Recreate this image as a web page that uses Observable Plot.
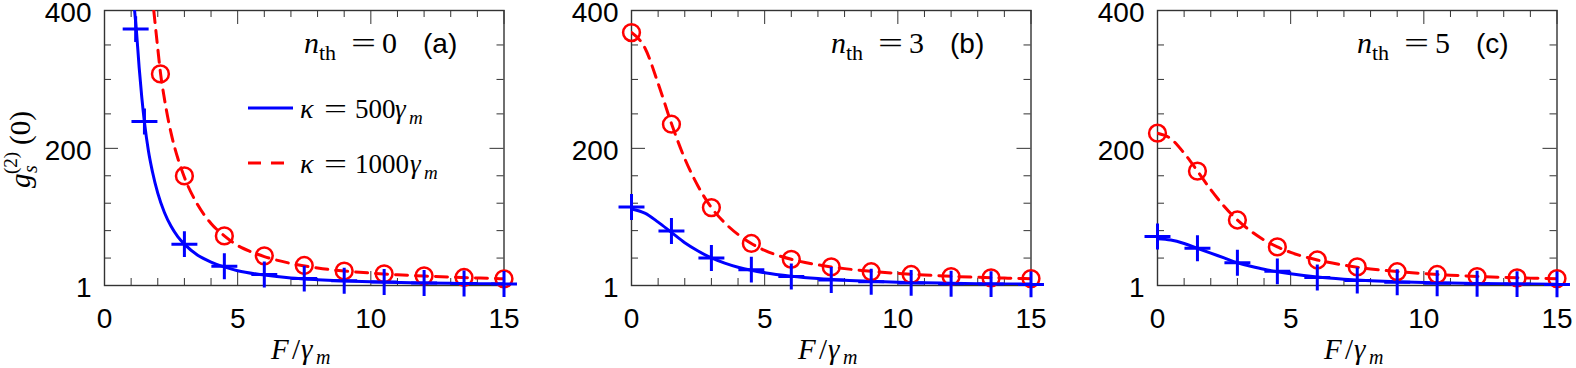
<!DOCTYPE html>
<html>
<head>
<meta charset="utf-8">
<script src="https://cdn.jsdelivr.net/npm/d3@7"></script>
<script src="https://cdn.jsdelivr.net/npm/@observablehq/plot@0.6"></script>
<style>
  body { margin: 0; background: #fff; }
  #fig { position: relative; width: 1576px; height: 368px; overflow: hidden; background: #fff; }
  .panel { position: absolute; top: 0; }
  .panel svg { max-width: none; overflow: visible; display: block; }
</style>
</head>
<body>
<div id="fig"></div>
<script>
// ---- axes -------------------------------------------------------------
const xMajorTicks = [0, 5, 10, 15];
const xMinorTicks = [1, 2, 3, 4, 6, 7, 8, 9, 11, 12, 13, 14];
const yTickValues = [1, 200, 400];
const yTickLabels = ["1", "200", "400"];
const yMinorTicks = [40.8, 80.6, 120.4, 160.2, 250, 300, 350];

// ---- panel annotations ------------------------------------------------
const nThermal = ["0", "3", "5"];
const panelTags = ["(a)", "(b)", "(c)"];
const kappaLabels = ["500", "1000"];

// ---- analytic curves g_s^(2)(0) versus F/γm ---------------------------
// panel (a), n_th = 0 (both curves leave the top of the range at small F)
const curveFa500 = [1.13, 1.2, 1.3, 1.4, 1.5, 1.65, 1.8, 2, 2.25, 2.5, 2.75, 3, 3.5, 4, 4.5, 5, 6, 7, 8, 9, 10, 11, 12, 13, 14, 15];
const curveGa500 = [400, 370, 318, 274, 238, 196, 166, 135, 107, 87, 72, 61, 45, 35, 28, 22.5, 16.2, 12, 9.5, 7.7, 6.4, 5.4, 4.7, 4.2, 3.7, 3.4];
const curveFa1000 = [1.85, 2, 2.1, 2.25, 2.5, 2.75, 3, 3.5, 4, 4.5, 5, 5.5, 6, 7, 8, 9, 10, 11, 12, 13, 14, 15];
const curveGa1000 = [400, 345, 310, 272, 222, 186, 158, 118, 91, 73, 59, 50, 43, 33, 26.5, 22, 19, 16.5, 14.8, 13.2, 11.9, 10.8];
// panels (b) and (c) share one F grid
const curveF = [0, 0.5, 1, 1.5, 2, 2.5, 3, 3.5, 4, 4.5, 5, 6, 7, 8, 9, 10, 11, 12, 13, 14, 15];
const curveGb500 = [112, 106, 93, 78, 63, 51, 41, 33.5, 27.5, 23, 19.5, 14.5, 11, 8.6, 7, 5.8, 4.9, 4.2, 3.7, 3.3, 3.0];
const curveGb1000 = [368, 346, 294, 236, 185, 145, 114, 92, 75, 62, 52, 39, 31, 25.5, 21.5, 18.5, 16.2, 14.3, 12.9, 11.8, 10.9];
const curveGc500 = [69, 67, 62, 55, 48, 41, 34, 29, 24.5, 21, 18, 13.3, 10.2, 8, 6.5, 5.4, 4.6, 4, 3.5, 3.1, 2.8];
const curveGc1000 = [222, 214, 193, 167, 140, 116, 96, 80, 67, 57, 49, 38, 30.5, 25, 21.2, 18.3, 16, 14.2, 12.8, 11.7, 10.8];

// ---- numerical points ---------------------------------------------------
const markerFa500 = [1.17, 1.5, 3, 4.5, 6, 7.5, 9, 10.5, 12, 13.5, 15];
const markerGa500 = [373, 239, 61, 29, 17, 11, 8, 6, 4.6, 3.8, 3.2];
const markerFa1000 = [2.1, 3, 4.5, 6, 7.5, 9, 10.5, 12, 13.5, 15];
const markerGa1000 = [308, 160, 73, 44, 30, 22, 18, 15, 12.6, 10.7];
const markerF = [0, 1.5, 3, 4.5, 6, 7.5, 9, 10.5, 12, 13.5, 15];
const markerGb500 = [115, 80, 41, 24, 14, 9, 6.3, 4.8, 3.6, 3, 2.6];
const markerGb1000 = [368, 235, 114, 62, 39, 28, 21, 17, 14, 12, 11];
const markerGc500 = [72, 55, 34, 21.5, 12.5, 8.3, 5.8, 4.4, 3.5, 3, 2.6];
const markerGc1000 = [222, 167, 96, 57, 38, 28, 21, 17, 14, 12, 11];

// ---- styling ------------------------------------------------------------
const BLUE = "#0000ff";
const RED = "#ff0000";
const FRAME = "#333";
const SANS = "Liberation Sans, Arial, sans-serif";
const SERIF = "Liberation Serif, Times New Roman, serif";
const DASH = "12,8";

const rows = (F, G) => F.map((f, i) => ({F: f, g: G[i]}));

function addText(parent, x, y, str, {size = 28, family = SERIF, italic = false, anchor = "start", stretch = null} = {}) {
  const t = parent.append("text")
    .attr("x", x).attr("y", y)
    .attr("font-family", family)
    .attr("font-size", size)
    .attr("font-style", italic ? "italic" : "normal")
    .attr("text-anchor", anchor)
    .attr("fill", "black")
    .text(str);
  if (stretch) t.attr("textLength", stretch).attr("lengthAdjust", "spacingAndGlyphs");
  return t;
}

function panel({left, c500, c1000, m500, m1000, idx, withTitle, withLegend}) {
  const width = 520, height = 368;
  const marginLeft = 104, marginRight = 16.5, marginTop = 10, marginBottom = 83;
  const innerW = width - marginLeft - marginRight;
  const innerH = height - marginTop - marginBottom;
  const minor = 7, major = 14;

  const svg = Plot.plot({
    width, height, marginLeft, marginRight, marginTop, marginBottom,
    x: {domain: [0, 15]},
    y: {domain: [1, 400]},
    style: {background: "transparent", color: "black", overflow: "visible"},
    marks: [
      // inward ticks on all four sides
      Plot.tickX(xMinorTicks, {x: d => d, insetTop: innerH - minor, stroke: FRAME}),
      Plot.tickX(xMinorTicks, {x: d => d, insetBottom: innerH - minor, stroke: FRAME}),
      Plot.tickX(xMajorTicks, {x: d => d, insetTop: innerH - major, stroke: FRAME}),
      Plot.tickX(xMajorTicks, {x: d => d, insetBottom: innerH - major, stroke: FRAME}),
      Plot.tickY(yMinorTicks, {y: d => d, insetRight: innerW - minor, stroke: FRAME}),
      Plot.tickY(yMinorTicks, {y: d => d, insetLeft: innerW - minor, stroke: FRAME}),
      Plot.tickY(yTickValues, {y: d => d, insetRight: innerW - major, stroke: FRAME}),
      Plot.tickY(yTickValues, {y: d => d, insetLeft: innerW - major, stroke: FRAME}),
      Plot.frame({stroke: FRAME, strokeWidth: 1.4}),
      Plot.axisX({ticks: xMajorTicks, tickSize: 0, tickPadding: 23, fontSize: 28, fontFamily: SANS,
                  tickFormat: d => String(d), label: null}),
      Plot.axisY({ticks: yTickValues, tickSize: 0, tickPadding: 13, fontSize: 28, fontFamily: SANS, dy: 3,
                  tickFormat: d => yTickLabels[yTickValues.indexOf(d)], label: null}),
      // curves
      Plot.line(c1000, {x: "F", y: "g", stroke: RED, strokeWidth: 3, strokeDasharray: DASH,
                        curve: "monotone-x", clip: true}),
      Plot.line(c500, {x: "F", y: "g", stroke: BLUE, strokeWidth: 3, curve: "monotone-x", clip: true}),
      // numerical points
      Plot.dot(m1000, {x: "F", y: "g", symbol: "circle", r: 8.4, stroke: RED, strokeWidth: 2.5, fill: "none"}),
      Plot.dot(m500, {x: "F", y: "g", symbol: "plus", r: 8.4, stroke: BLUE, strokeWidth: 3})
    ]
  });

  const g = d3.select(svg).append("g");
  const fx = marginLeft, fy = marginTop;

  // n_th label and panel tag
  addText(g, fx + 200, fy + 43, "n", {size: 30, italic: true});
  addText(g, fx + 215, fy + 50, "th", {size: 22});
  addText(g, fx + 247, fy + 43, "=", {size: 30, stretch: 25});
  addText(g, fx + 278, fy + 43, nThermal[idx], {size: 30});
  addText(g, fx + 319, fy + 43, panelTags[idx], {size: 28, family: SANS});

  // x-axis title F/γm
  addText(g, fx + 167, 359, "F", {size: 29, italic: true});
  addText(g, fx + 188, 359, "/", {size: 29});
  addText(g, fx + 197, 359, "γ", {size: 29, italic: true});
  addText(g, fx + 212, 364, "m", {size: 20, italic: true});

  if (withTitle) {
    const t = d3.select(svg).append("g").attr("transform", "translate(30,188) rotate(-90)");
    addText(t, 0, 0, "g", {size: 29, italic: true});
    addText(t, 15, 7, "s", {size: 20, italic: true});
    addText(t, 14, -13, "(2)", {size: 19});
    addText(t, 43, 0, "(0)", {size: 29});
  }

  if (withLegend) {
    const L = g.append("g");
    L.append("line").attr("x1", fx + 144).attr("x2", fx + 189)
      .attr("y1", fy + 98).attr("y2", fy + 98)
      .attr("stroke", BLUE).attr("stroke-width", 3);
    L.append("line").attr("x1", fx + 144).attr("x2", fx + 189)
      .attr("y1", fy + 153).attr("y2", fy + 153)
      .attr("stroke", RED).attr("stroke-width", 3).attr("stroke-dasharray", "13,10");
    const rowsY = [fy + 108, fy + 163];
    const gammaX = [fx + 291, fx + 306];
    kappaLabels.forEach((lab, i) => {
      addText(L, fx + 196, rowsY[i], "κ", {size: 28, italic: true});
      addText(L, fx + 220, rowsY[i], "=", {size: 28, stretch: 23});
      addText(L, fx + 251, rowsY[i], lab, {size: 27});
      addText(L, gammaX[i], rowsY[i], "γ", {size: 27, italic: true});
      addText(L, gammaX[i] + 14, rowsY[i] + 6, "m", {size: 19, italic: true});
    });
  }

  const div = document.createElement("div");
  div.className = "panel";
  div.style.left = left + "px";
  div.appendChild(svg);
  document.getElementById("fig").appendChild(div);
}

panel({left: 0,
       c500: rows(curveFa500, curveGa500), c1000: rows(curveFa1000, curveGa1000),
       m500: rows(markerFa500, markerGa500), m1000: rows(markerFa1000, markerGa1000),
       idx: 0, withTitle: true, withLegend: true});
panel({left: 526.5,
       c500: rows(curveF, curveGb500), c1000: rows(curveF, curveGb1000),
       m500: rows(markerF, markerGb500), m1000: rows(markerF, markerGb1000),
       idx: 1, withTitle: false, withLegend: false});
panel({left: 1052.8,
       c500: rows(curveF, curveGc500), c1000: rows(curveF, curveGc1000),
       m500: rows(markerF, markerGc500), m1000: rows(markerF, markerGc1000),
       idx: 2, withTitle: false, withLegend: false});
</script>
</body>
</html>
